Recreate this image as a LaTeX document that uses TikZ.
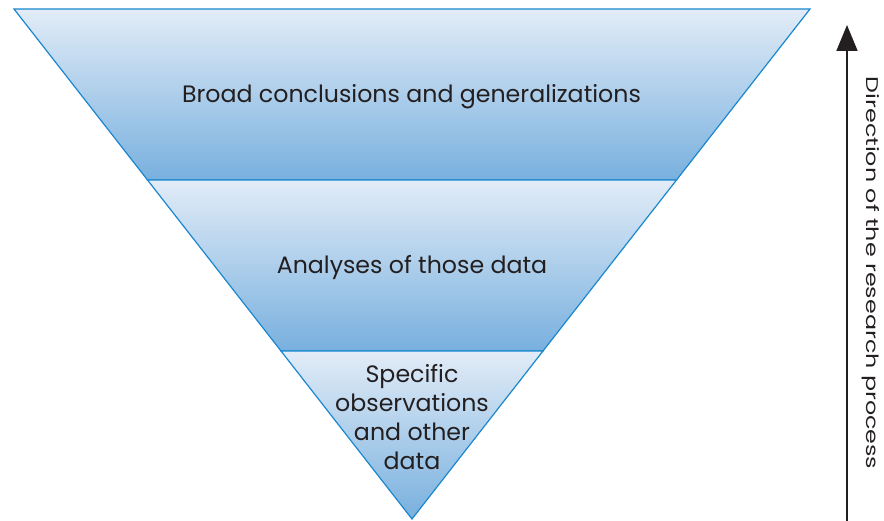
\documentclass[tikz,border=0pt]{standalone}
\usepackage{fontspec}
\setmainfont{Poppins}
\usetikzlibrary{positioning,arrows.meta}

\definecolor{bandline}{HTML}{1A87D0}
\definecolor{bandtop}{HTML}{E2ECF7}
\definecolor{bandbot}{HTML}{78B0DE}
\definecolor{txtgray}{HTML}{231F20}

\begin{document}
\begin{tikzpicture}[x=1pt,y=-1pt,
    band/.style={draw=bandline,line width=1.2pt,top color=bandtop,bottom color=bandbot,line join=miter},
    lbl/.style={font=\fontsize{23.7}{29}\selectfont,text=txtgray,align=center,inner sep=0pt,anchor=base}]

  \useasboundingbox (0,0) rectangle (884,521);

  % funnel bands, wide at top
  \path[band] (14,9) -- (810,9) -- (676.5,180) -- (147.5,180) -- cycle;
  \path[band] (147.5,180) -- (676.5,180) -- (543,351) -- (281,351) -- cycle;
  \path[band] (281,351) -- (543,351) -- (412,519) -- cycle;

  \node[lbl] (broad) at (411.5,102.5) {Broad conclusions and generalizations};
  \node[lbl] (analyses) at (412,273.5) {Analyses of those data};
  % base anchor sits on the last line here
  \node[lbl] (specific) at (412,469) {Specific\\observations\\and other\\data};

  % direction arrow
  \coordinate (dirlow) at (847,521);
  \coordinate (dirhigh) at (847,25);
  \draw[line width=1.8pt,txtgray,-{Triangle[length=26pt,width=21pt]}] (dirlow) -- (dirhigh);
  \node[lbl,font=\fontsize{17}{20}\selectfont,rotate=-90,xscale=1.4] (direction) at (866.5,273) {Direction of the research process};
\end{tikzpicture}
\end{document}
